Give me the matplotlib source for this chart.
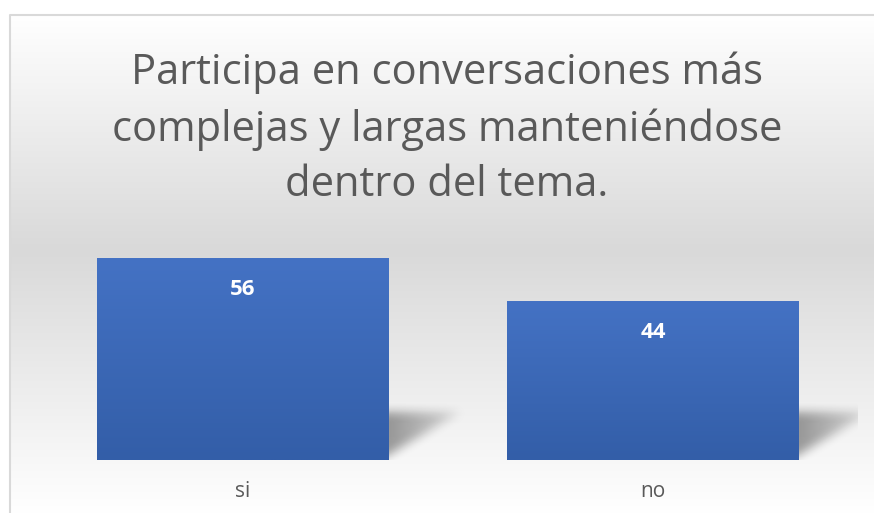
import matplotlib.pyplot as plt
import numpy as np
from matplotlib.colors import LinearSegmentedColormap

categories = ['si', 'no']
values = [56, 44]
title = 'Participa en conversaciones más\ncomplejas y largas manteniéndose\ndentro del tema.'

W, H = 874, 513
fig = plt.figure(figsize=(W / 100, H / 100), dpi=100)
fig.patch.set_facecolor('white')

# chart area background: white -> gray -> white, framed on left/top
bg = fig.add_axes([0, 0, 1, 1], zorder=-2)
bg.set_xlim(0, W)
bg.set_ylim(H, 0)
bg.axis('off')
yy = np.arange(14, H + 1)
shade = np.interp(yy, [14, 250, H], [255, 217, 255]) / 255.0
grad = np.repeat(shade[:, None], 2, axis=1)
grad = np.dstack([grad, grad, grad])
bg.imshow(grad, extent=[9.5, W, H, 14.5], aspect='auto', interpolation='bilinear')
bg.plot([9.5, 9.5, W], [H, 14.5, 14.5], color='#d9d9d9', lw=1.5)

fig.text(447 / W, 1 - 129 / H, title, ha='center', va='center', fontsize=30,
         family='Open Sans', color='#595959', linespacing=1.42)

ax = fig.add_axes([38 / W, 53 / H, 820 / W, 216 / H])
ax.set_facecolor('none')
for s in ax.spines.values():
    s.set_visible(False)
ax.set_yticks([])
ax.set_xticks(range(len(categories)))
ax.set_xticklabels(categories, family='Open Sans', fontsize=15, color='#595959')
ax.tick_params(axis='x', length=0, pad=15)

bar_w = 0.712
blue = LinearSegmentedColormap.from_list('b', ['#335ea8', '#4472c4'])
ramp = np.linspace(0, 1, 100)[:, None]


def blur(m, k):
    pad = np.pad(m, k, mode='constant')
    out = np.zeros_like(m)
    for dy in range(-k, k + 1):
        for dx in range(-k, k + 1):
            out += pad[k + dy:k + dy + m.shape[0], k + dx:k + dx + m.shape[1]]
    return out / (2 * k + 1) ** 2


# soft perspective shadow to the lower right of each bar
def shadow(x0):
    xs = np.linspace(x0 - 0.08, x0 + 0.28, 130)[None, :]
    ys = np.linspace(0, 20, 72)[:, None]
    d = (xs - x0) / 0.17
    m = ((ys > 1.5 + d * 11.5) & (ys < 13.5)).astype(float)
    m = m * np.clip(1 - d * 0.7, 0, 1)
    m = blur(blur(m, 5), 5)
    rgba = np.zeros(m.shape + (4,))
    rgba[..., 3] = m * 0.38
    ax.imshow(rgba, extent=[x0 - 0.08, x0 + 0.28, 0, 20], origin='lower',
              aspect='auto', interpolation='bilinear', zorder=1)

for i, v in enumerate(values):
    left = i - bar_w / 2
    shadow(left + bar_w)
    ax.imshow(ramp, cmap=blue, extent=[left, left + bar_w, 0, v], origin='lower',
              aspect='auto', zorder=2)
    ax.text(i, v - 8.6, str(v), ha='center', va='center', color='white',
            fontsize=16, fontweight='bold', family='Open Sans', zorder=3)

ax.set_xlim(-0.5, len(categories) - 0.5)
ax.set_ylim(0, 60)

fig.savefig('out.png', dpi=100)
